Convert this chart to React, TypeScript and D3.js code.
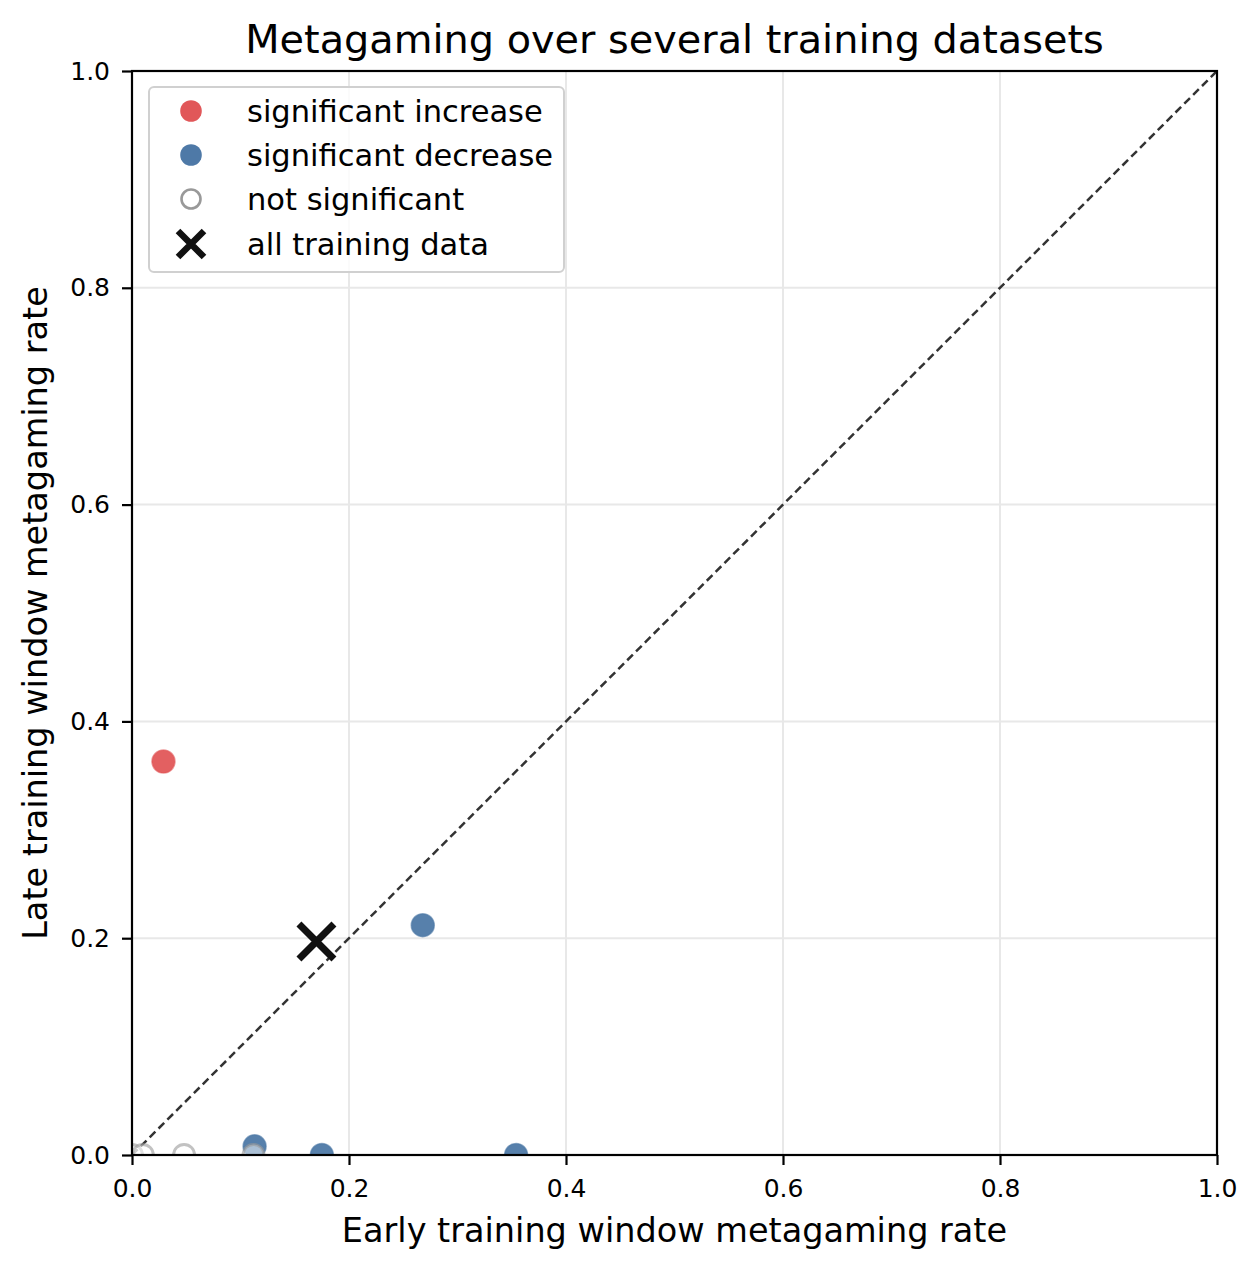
import * as d3 from "d3";
import React, { useEffect, useRef } from "react";

const increaseEarly = [0.029];
const increaseLate = [0.363];
const decreaseEarly = [0.268, 0.113, 0.175, 0.354];
const decreaseLate = [0.212, 0.008, 0.0, 0.0];
const notSigEarly = [0.0, 0.01, 0.048, 0.112];
const notSigLate = [0.0, 0.0, 0.0, 0.0];
const allEarly = [0.17];
const allLate = [0.197];
const tickValues = [0, 0.2, 0.4, 0.6, 0.8, 1.0];
const legendLabels = [
  "significant increase",
  "significant decrease",
  "not significant",
  "all training data",
];

const W = 1260;
const H = 1272;
const FONT = "DejaVu Sans, sans-serif";

export default function App() {
  const ref = useRef<SVGSVGElement>(null);

  useEffect(() => {
    const svg = d3.select(ref.current);
    svg.selectAll("*").remove();

    const left = 132, right = 1217, top = 71, bottom = 1155;
    const x = d3.scaleLinear().domain([0, 1]).range([left, right]);
    const y = d3.scaleLinear().domain([0, 1]).range([bottom, top]);

    svg.append("rect").attr("width", W).attr("height", H).attr("fill", "white");

    svg
      .append("defs")
      .append("clipPath")
      .attr("id", "plotclip")
      .append("rect")
      .attr("x", left)
      .attr("y", top)
      .attr("width", right - left)
      .attr("height", bottom - top);

    // grid
    const grid = svg.append("g");
    tickValues.forEach((t) => {
      grid
        .append("line")
        .attr("x1", x(t)).attr("x2", x(t))
        .attr("y1", top).attr("y2", bottom)
        .attr("stroke", "#e8e8e8").attr("stroke-width", 2);
      grid
        .append("line")
        .attr("x1", left).attr("x2", right)
        .attr("y1", y(t)).attr("y2", y(t))
        .attr("stroke", "#e8e8e8").attr("stroke-width", 2);
    });

    const plot = svg.append("g").attr("clip-path", "url(#plotclip)");

    // diagonal
    plot
      .append("line")
      .attr("x1", x(0)).attr("y1", y(0))
      .attr("x2", x(1)).attr("y2", y(1))
      .attr("stroke", "#333").attr("stroke-width", 2.5)
      .attr("stroke-dasharray", "8,4.5");

    const r = 11.5;
    const blue = "#4e79a7";
    const red = "#e15759";

    plot
      .selectAll("circle.inc")
      .data(increaseEarly.map((e, i) => [e, increaseLate[i]]))
      .enter()
      .append("circle")
      .attr("cx", (d) => x(d[0]))
      .attr("cy", (d) => y(d[1]))
      .attr("r", r)
      .attr("fill", red)
      .attr("fill-opacity", 0.95)
      .attr("stroke", red)
      .attr("stroke-opacity", 0.6)
      .attr("stroke-width", 1.5);

    plot
      .selectAll("circle.dec")
      .data(decreaseEarly.map((e, i) => [e, decreaseLate[i]]))
      .enter()
      .append("circle")
      .attr("cx", (d) => x(d[0]))
      .attr("cy", (d) => y(d[1]))
      .attr("r", r)
      .attr("fill", blue)
      .attr("fill-opacity", 0.95)
      .attr("stroke", blue)
      .attr("stroke-opacity", 0.6)
      .attr("stroke-width", 1.5);

    plot
      .selectAll("circle.ns")
      .data(notSigEarly.map((e, i) => [e, notSigLate[i]]))
      .enter()
      .append("circle")
      .attr("cx", (d) => x(d[0]))
      .attr("cy", (d) => y(d[1]))
      .attr("r", r - 1)
      .attr("fill", "white")
      .attr("fill-opacity", 0.5)
      .attr("stroke", "#999")
      .attr("stroke-width", 2.8)
      .attr("stroke-opacity", 0.6);

    const xs = 17.5;
    allEarly.forEach((e, i) => {
      const cx = x(e), cy = y(allLate[i]);
      plot
        .append("path")
        .attr("d", `M${cx - xs},${cy - xs}L${cx + xs},${cy + xs}M${cx - xs},${cy + xs}L${cx + xs},${cy - xs}`)
        .attr("stroke", "#111")
        .attr("stroke-width", 7);
    });

    // frame
    svg
      .append("rect")
      .attr("x", left).attr("y", top)
      .attr("width", right - left).attr("height", bottom - top)
      .attr("fill", "none").attr("stroke", "black").attr("stroke-width", 2.2);

    // axes ticks
    const xAxis = svg
      .append("g")
      .attr("transform", `translate(0,${bottom})`)
      .call(d3.axisBottom(x).tickValues(tickValues).tickFormat(d3.format(".1f")).tickSize(10).tickPadding(14));
    const yAxis = svg
      .append("g")
      .attr("transform", `translate(${left},0)`)
      .call(d3.axisLeft(y).tickValues(tickValues).tickFormat(d3.format(".1f")).tickSize(10).tickPadding(12));
    [xAxis, yAxis].forEach((a) => {
      a.select(".domain").remove();
      a.selectAll("line").attr("stroke", "black").attr("stroke-width", 2.2);
      a.selectAll("text").attr("font-family", FONT).attr("font-size", 25).attr("fill", "black");
    });

    // title & labels
    svg
      .append("text")
      .attr("x", (left + right) / 2).attr("y", 53)
      .attr("text-anchor", "middle")
      .attr("font-family", FONT).attr("font-size", 39.8)
      .text("Metagaming over several training datasets");
    svg
      .append("text")
      .attr("x", (left + right) / 2).attr("y", 1242)
      .attr("text-anchor", "middle")
      .attr("font-family", FONT).attr("font-size", 33.5)
      .text("Early training window metagaming rate");
    svg
      .append("text")
      .attr("transform", `translate(47,${(top + bottom) / 2}) rotate(-90)`)
      .attr("text-anchor", "middle")
      .attr("font-family", FONT).attr("font-size", 33.5)
      .text("Late training window metagaming rate");

    // legend
    const lg = svg.append("g");
    lg.append("rect")
      .attr("x", 149).attr("y", 87).attr("width", 415).attr("height", 185)
      .attr("rx", 5)
      .attr("fill", "white").attr("fill-opacity", 0.8)
      .attr("stroke", "#d0d0d0").attr("stroke-width", 2);
    const rowY = [111, 155, 199, 244];
    legendLabels.forEach((label, i) => {
      const cy = rowY[i];
      const cx = 191;
      if (i === 0 || i === 1) {
        lg.append("circle").attr("cx", cx).attr("cy", cy).attr("r", 10.8).attr("fill", i === 0 ? red : blue);
      } else if (i === 2) {
        lg.append("circle").attr("cx", cx).attr("cy", cy).attr("r", 9.5)
          .attr("fill", "white").attr("stroke", "#999").attr("stroke-width", 2.6);
      } else {
        const s = 13;
        lg.append("path")
          .attr("d", `M${cx - s},${cy - s}L${cx + s},${cy + s}M${cx - s},${cy + s}L${cx + s},${cy - s}`)
          .attr("stroke", "#111").attr("stroke-width", 6.5);
      }
      lg.append("text")
        .attr("x", 247).attr("y", cy + 11)
        .attr("font-family", FONT).attr("font-size", 30.5)
        .text(label);
    });
  }, []);

  return (
    <svg
      ref={ref}
      width={W}
      height={H}
      style={{ position: "absolute", left: 0, top: 0 }}
    />
  );
}
